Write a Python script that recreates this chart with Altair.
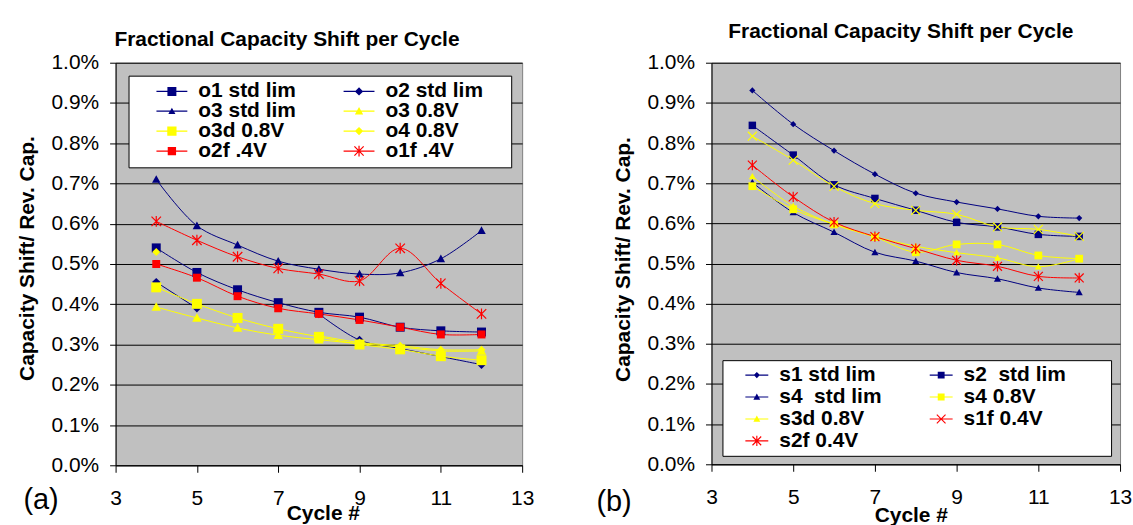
import altair as alt
import pandas as pd

FONT = "Liberation Sans"
NAVY = "#000080"
RED = "#FF0000"
YELLOW = "#FFFF00"
NBSP = "\u00a0"

CYCLES = [4, 5, 6, 7, 8, 9, 10, 11, 12]
X_TICKS = [3, 5, 7, 9, 11, 13]
Y_TICKS = [0.0, 0.001, 0.002, 0.003, 0.004, 0.005, 0.006, 0.007, 0.008, 0.009, 0.010]

# ---- panel (a): values in percent, None = no point (gap in the line)
A_NAMES = ["o1 std lim", "o2 std lim", "o3 std lim", "o3 0.8V",
           "o3d 0.8V", "o4 0.8V", "o2f .4V", "o1f .4V"]
A_O1_STD = [0.540, 0.479, 0.436, 0.404, 0.380, 0.368, 0.343, 0.334, 0.331]
A_O2_STD = [0.455, 0.390, None, None, 0.376, 0.311, 0.290, 0.270, 0.250]
A_O3_STD = [0.710, 0.595, 0.547, 0.507, 0.487, 0.475, 0.478, 0.513, 0.583]
A_O3_08 = [0.393, 0.366, 0.341, 0.323, 0.312, 0.302, 0.294, 0.284, 0.284]
A_O3D_08 = [0.442, 0.401, 0.366, 0.339, 0.319, 0.300, 0.288, 0.271, 0.261]
A_O4_08 = [0.530, None, None, None, 0.322, 0.305, 0.297, 0.287, 0.287]
A_O2F_04 = [0.500, 0.466, 0.420, 0.390, 0.376, 0.361, 0.343, 0.325, 0.325]
A_O1F_04 = [0.606, 0.559, 0.518, 0.489, 0.475, 0.458, 0.539, 0.452, 0.376]
A_SERIES = [A_O1_STD, A_O2_STD, A_O3_STD, A_O3_08, A_O3D_08, A_O4_08, A_O2F_04, A_O1F_04]
A_COLORS = [NAVY, NAVY, NAVY, YELLOW, YELLOW, YELLOW, RED, RED]

# ---- panel (b)  (the double blanks of the original legend are kept visible)
B_NAMES = ["s1 std lim", "s2\u00a0 std lim", "s4\u00a0 std lim", "s4 0.8V",
           "s3d 0.8V", "s1f 0.4V", "s2f 0.4V"]
B_S1_STD = [0.931, 0.847, 0.781, 0.7225, 0.675, 0.653, 0.636, 0.6175, 0.613]
B_S2_STD = [0.844, 0.770, 0.696, 0.662, 0.6325, 0.6025, 0.591, 0.5725, 0.5675]
B_S4_STD = [0.702, 0.627, 0.578, 0.528, 0.506, 0.4775, 0.462, 0.439, 0.428]
B_S4_08 = [0.6925, 0.635, 0.5975, 0.566, 0.528, 0.5475, 0.5475, 0.520, 0.512]
B_S3D_08 = [0.7167, 0.643, 0.5975, 0.567, 0.543, 0.527, 0.514, 0.492, 0.512]
B_S1F_04 = [0.817, 0.7575, 0.692, 0.649, 0.6325, 0.6225, 0.591, 0.585, 0.5675]
B_S2F_04 = [0.745, 0.666, 0.603, 0.567, 0.537, 0.508, 0.493, 0.468, 0.464]
B_SERIES = [B_S1_STD, B_S2_STD, B_S4_STD, B_S4_08, B_S3D_08, B_S1F_04, B_S2F_04]
B_COLORS = [NAVY, NAVY, NAVY, YELLOW, YELLOW, RED, RED]


# ---------- marker geometry (SVG paths in the -1..1 symbol box) ----------
def _poly(pts):
    area = 0.0
    for i in range(len(pts)):
        x1, y1 = pts[i]
        x2, y2 = pts[(i + 1) % len(pts)]
        area += x1 * y2 - x2 * y1
    if area < 0:
        pts = pts[::-1]
    return "M" + " L".join(f"{x:.3f},{y:.3f}" for x, y in pts) + " Z"


def _bar(x1, y1, x2, y2, w):
    dx, dy = x2 - x1, y2 - y1
    n = (dx * dx + dy * dy) ** 0.5
    nx, ny = -dy / n * w, dx / n * w
    return _poly([(x1 + nx, y1 + ny), (x2 + nx, y2 + ny), (x2 - nx, y2 - ny), (x1 - nx, y1 - ny)])


def square(s):
    return _poly([(-s, -s), (s, -s), (s, s), (-s, s)])


def diamond(s):
    return _poly([(0, -s), (s, 0), (0, s), (-s, 0)])


def triangle(s):
    return _poly([(0, -s), (s, 0.8 * s), (-s, 0.8 * s)])


def xmark(s, w):
    return _bar(-s, -s, s, s, w) + " " + _bar(-s, s, s, -s, w)


def star(s, w):
    return xmark(s, w) + " " + _bar(0, -1.15 * s, 0, 1.15 * s, w)


def with_line(marker, h):
    return _bar(-1, 0, 1, 0, h) + " " + marker


A_MARKERS = [square(0.9), diamond(0.85), triangle(0.85), triangle(0.95),
             square(1.0), diamond(0.8), square(0.8), star(0.95, 0.12)]
A_KEYS = [with_line(m, 0.04) for m in
          [square(0.29), diamond(0.27), triangle(0.23), triangle(0.27),
           square(0.3), diamond(0.27), square(0.27), star(0.3, 0.04)]]

B_MARKERS = [diamond(0.62), square(0.75), triangle(0.72), square(0.78),
             triangle(0.72), xmark(0.9, 0.12), star(0.9, 0.12)]
B_KEYS = [with_line(m, 0.05) for m in
          [diamond(0.27), square(0.3), triangle(0.3), square(0.3),
           triangle(0.3), xmark(0.38, 0.05), star(0.38, 0.05)]]


def build_table(names, series):
    rows = []
    for k, (name, vals) in enumerate(zip(names, series)):
        seg = 0
        for c, v in zip(CYCLES, vals):
            if v is None:
                seg += 1
                continue
            rows.append({"series": name, "cycle": c, "value": v / 100.0,
                         "seg": f"{k}-{seg}"})
    return pd.DataFrame(rows)


def panel(names, series, colors, markers, keys, w, h, title_dx, title_offset,
          xtitle_x, xtitle_y, ytitle_y, legend_kw):
    df = build_table(names, series)
    x = alt.X("cycle:Q", scale=alt.Scale(domain=[3, 13], nice=False, zero=False),
              axis=alt.Axis(values=X_TICKS, grid=False, tickSize=7, labelPadding=15,
                            labelFlush=False, labelOverlap=False,
                            title="Cycle #", titleX=xtitle_x, titleY=xtitle_y,
                            titleAlign="center", titleBaseline="alphabetic"))
    y = alt.Y("value:Q", scale=alt.Scale(domain=[0, 0.01], nice=False, zero=True),
              axis=alt.Axis(values=Y_TICKS, format=".1%", grid=True, tickSize=6,
                            labelPadding=11, labelFlush=False, labelOverlap=False,
                            title="Capacity Shift/ Rev. Cap.", titleAngle=270,
                            titleX=-88, titleY=ytitle_y, titleAlign="center",
                            titleBaseline="middle"))
    color = alt.Color("series:N", scale=alt.Scale(domain=names, range=colors), legend=None)
    base = alt.Chart(df)
    lines = base.mark_line(interpolate="catmull-rom", strokeWidth=1).encode(
        x=x, y=y, color=color, detail="seg:N")
    points = base.mark_point(filled=True, opacity=1, size=100, strokeWidth=0).encode(
        x=x, y=y, color=color,
        shape=alt.Shape("series:N", scale=alt.Scale(domain=names, range=markers), legend=None))
    leg = alt.Legend(
        title=NBSP, titleOrient="right", titleFont=FONT, titleFontSize=21,
        orient="none", columns=2, direction="horizontal",
        fillColor="white", strokeColor="black", symbolStrokeWidth=0,
        labelFont=FONT, labelFontSize=21, labelFontWeight="bold", labelColor="black",
        labelLimit=400, **legend_kw)
    legend_layer = base.mark_point(filled=True, opacity=1).encode(
        x=x, y=y,
        fill=alt.Fill("series:N", scale=alt.Scale(domain=names, range=colors), legend=leg),
        shape=alt.Shape("series:N", scale=alt.Scale(domain=names, range=keys), legend=leg),
    ).transform_filter("false")
    return alt.layer(lines, points, legend_layer).resolve_scale(
        shape="independent", fill="independent"
    ).properties(
        width=w, height=h,
        title=alt.TitleParams("Fractional Capacity Shift per Cycle", font=FONT, fontSize=21,
                              fontWeight="bold", color="black", anchor="middle",
                              dx=title_dx, offset=title_offset))


chart_a = panel(A_NAMES, A_SERIES, A_COLORS, A_MARKERS, A_KEYS, 408, 404,
                title_dx=-32, title_offset=1.5, xtitle_x=208, xtitle_y=54, ytitle_y=196,
                legend_kw=dict(legendX=13, legendY=13, columnPadding=24.8, padding=6,
                               rowPadding=-3, titlePadding=22,
                               symbolSize=961, symbolOffset=22, labelOffset=11,
                               clipHeight=19.3))
chart_b = panel(B_NAMES, B_SERIES, B_COLORS, B_MARKERS, B_KEYS, 410, 403,
                title_dx=-15, title_offset=9.5, xtitle_x=200, xtitle_y=57, ytitle_y=197,
                legend_kw=dict(legendX=11, legendY=298.5, columnPadding=29, padding=4,
                               rowPadding=0, titlePadding=41,
                               symbolSize=529, symbolOffset=19, labelOffset=11,
                               clipHeight=22))

wrap_a = alt.vconcat(chart_a, title=alt.TitleParams(
    "(a)", orient="bottom", anchor="start", font=FONT, fontSize=29,
    fontWeight="normal", color="black", dx=7, dy=-41.5))
wrap_b = alt.vconcat(chart_b, title=alt.TitleParams(
    "(b)", orient="bottom", anchor="start", font=FONT, fontSize=29,
    fontWeight="normal", color="black", dx=-16, dy=-41.5))

chart = alt.hconcat(wrap_a, wrap_b, spacing=61).properties(
    padding={"left": 16, "top": 20, "right": 0, "bottom": 0},
    background="white",
).configure_view(
    fill="#C0C0C0", stroke="#808080", strokeWidth=1
).configure_axis(
    labelFont=FONT, labelFontSize=21, labelColor="black",
    titleFont=FONT, titleFontSize=21, titleFontWeight="bold", titleColor="black",
    domainColor="black", tickColor="black", gridColor="black", gridWidth=1,
    domainWidth=1, tickWidth=1,
)

chart.save("out.html", embed_options={"renderer": "svg", "actions": False})
